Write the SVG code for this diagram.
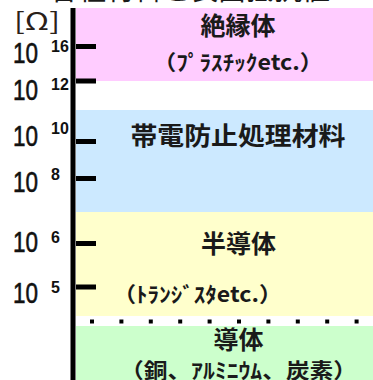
<svg xmlns="http://www.w3.org/2000/svg" width="373" height="380" viewBox="0 0 373 380">
<style>
.jp{font-family:"Noto Sans CJK JP","Noto Sans CJK SC",sans-serif;fill:#1a1a1a;text-anchor:middle;font-weight:bold}
.h{font-size:25px}
.p{font-size:21px}
.num{font-family:"Liberation Sans",Arial,sans-serif;font-size:29px;fill:#111;stroke:#111;stroke-width:0.6}
.sup{font-family:"Liberation Sans",Arial,sans-serif;font-size:16px;font-weight:bold;fill:#111}
.tick{fill:#000}
</style>
<rect width="373" height="380" fill="#fff"/>
<text x="50" y="0" font-family="Noto Sans CJK JP,sans-serif" font-size="28" fill="#1a1a1a" textLength="280" lengthAdjust="spacingAndGlyphs">各種材料と表面抵抗値</text>
<g id="insulator">
<rect x="76" y="8" width="297" height="73" fill="#ffccff"/>
<text class="jp h" x="238" y="35">絶縁体</text>
<text class="jp p" x="238" y="70" textLength="170" lengthAdjust="spacingAndGlyphs">（ﾌﾟﾗｽﾁｯｸetc.）</text>
</g>
<g id="antistatic">
<rect x="76" y="110" width="297" height="102" fill="#cce9ff"/>
<text class="jp h" x="238" y="145" textLength="215" lengthAdjust="spacingAndGlyphs">帯電防止処理材料</text>
</g>
<g id="semiconductor">
<rect x="76" y="212" width="297" height="104" fill="#ffffcc"/>
<text class="jp h" x="238.5" y="253">半導体</text>
<text class="jp p" x="197.5" y="302" textLength="169" lengthAdjust="spacingAndGlyphs">（ﾄﾗﾝｼﾞｽﾀetc.）</text>
</g>
<g id="conductor">
<rect x="76" y="326" width="297" height="54" fill="#ccffcc"/>
<text class="jp h" x="238.5" y="349">導体</text>
<text class="jp p" x="238.5" y="378" textLength="237" lengthAdjust="spacingAndGlyphs">（銅、ｱﾙﾐﾆｳﾑ、炭素）</text>
</g>
<g id="connectors">
<rect x="70.5" y="8" width="5" height="372" fill="#000"/>
<rect class="tick" x="76" y="44" width="20" height="5"/>
<rect class="tick" x="76" y="78.5" width="20" height="5"/>
<rect class="tick" x="76" y="139" width="20" height="5"/>
<rect class="tick" x="76" y="176" width="20" height="5"/>
<rect class="tick" x="76" y="241" width="20" height="5"/>
<rect class="tick" x="76" y="284.5" width="20" height="5"/>
<line x1="90" y1="321.5" x2="360" y2="321.5" stroke="#000" stroke-width="4" stroke-dasharray="4 25.4"/>
</g>
<g id="axis-labels">
<text x="14" y="30" font-family="Noto Sans CJK JP,sans-serif" font-size="24" fill="#2a2018" textLength="46" lengthAdjust="spacingAndGlyphs">[Ω]</text>
<text class="num" x="13" y="62.5" textLength="25" lengthAdjust="spacingAndGlyphs">10</text>
<text class="sup" x="51" y="52">16</text>
<text class="num" x="13" y="100" textLength="25" lengthAdjust="spacingAndGlyphs">10</text>
<text class="sup" x="51" y="90">12</text>
<text class="num" x="13" y="146" textLength="25" lengthAdjust="spacingAndGlyphs">10</text>
<text class="sup" x="51" y="133.5">10</text>
<text class="num" x="13" y="191.5" textLength="25" lengthAdjust="spacingAndGlyphs">10</text>
<text class="sup" x="51" y="180">8</text>
<text class="num" x="13" y="252" textLength="25" lengthAdjust="spacingAndGlyphs">10</text>
<text class="sup" x="51" y="242.5">6</text>
<text class="num" x="13" y="303" textLength="25" lengthAdjust="spacingAndGlyphs">10</text>
<text class="sup" x="51" y="292.5">5</text>
</g>
</svg>
